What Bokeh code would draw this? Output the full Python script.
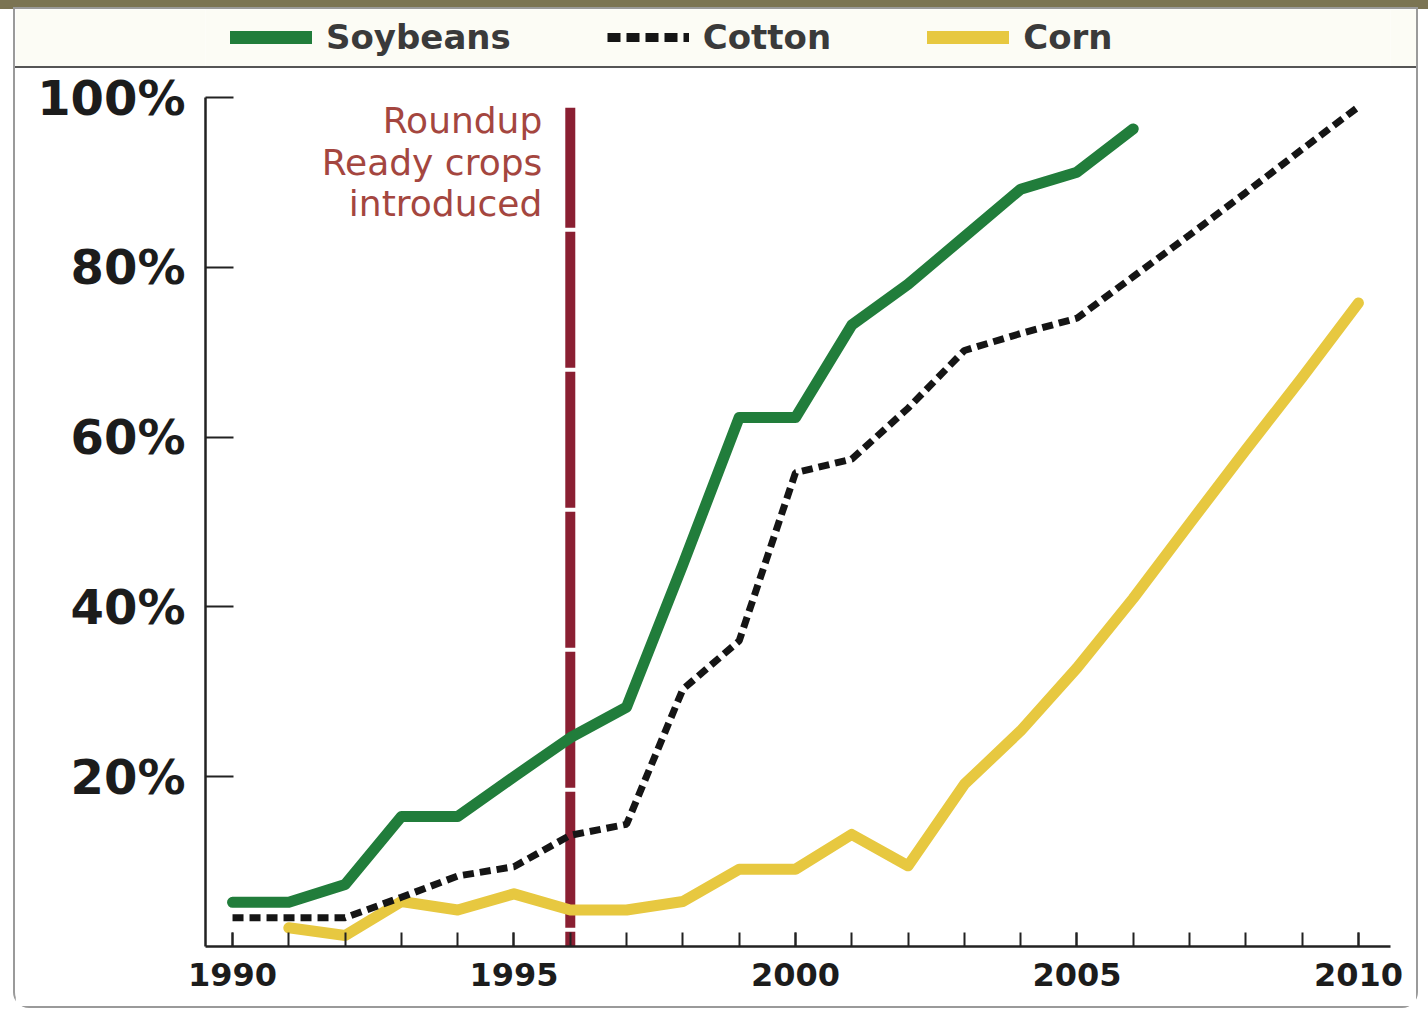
from bokeh.plotting import figure
from bokeh.models import Range1d, FixedTicker, PrintfTickFormatter, Legend, LegendItem, Label, Spacer
from bokeh.layouts import column, row
from bokeh.embed import file_html
from bokeh.resources import INLINE

# ---- data (share of planted acres, %) ----
years_soy = list(range(1990, 2007))
soybeans = [5.2, 5.2, 7.3, 15.3, 15.3, 20, 24.6, 28.2, 45, 62.3, 62.3, 73.2, 78, 83.6, 89.2, 91.2, 96.3]

years_cotton = list(range(1990, 2011))
cotton = [3.4, 3.4, 3.4, 5.8, 8.3, 9.4, 13.1, 14.4, 30.3, 36, 55.8, 57.4, 63.4, 70.2, 72.2, 74, 78.9, 83.8, 88.8, 93.9, 98.9]

years_corn = list(range(1991, 2011))
corn = [2.2, 1.3, 5.3, 4.3, 6.2, 4.3, 4.3, 5.3, 9.1, 9.1, 13.2, 9.5, 19.1, 25.4, 32.8, 41, 49.8, 58.5, 67, 75.8]

series_names = ["Soybeans", "Cotton", "Corn"]
x_ticks = [1990, 1995, 2000, 2005, 2010]
x_minor = list(range(1990, 2011))
y_ticks = [20, 40, 60, 80, 100]

marker_x = [1996, 1996]
marker_y = [98.8, 0]
marker_text = ["Roundup", "Ready crops", "introduced"]
marker_text_y = [97.3, 92.3, 87.5]

# ---- styles ----
FONT = "DejaVu Sans"
GREEN = "#217d3b"
BLACK = "#151515"
YELLOW = "#e7c840"
MAROON = "#8a1f32"
W_OUT = 1428
W = 1401

# olive top band
band = Spacer(width=W_OUT, height=9, styles={"background-color": "#7b7453"})

# legend strip
lf = figure(width=W, height=57, toolbar_location=None, output_backend="svg",
            x_axis_location=None, y_axis_location=None, min_border=0,
            x_range=Range1d(0, 1), y_range=Range1d(0, 1),
            background_fill_color="#fcfcf5", border_fill_color="#fcfcf5",
            outline_line_color=None)
lf.grid.visible = False
oob_x = [5, 6]
oob_y = [5, 6]
r1 = lf.line(oob_x, oob_y, line_color=GREEN, line_width=13, line_cap="round")
r2 = lf.line(oob_x, oob_y, line_color=BLACK, line_width=9, line_dash="13 6")
r3 = lf.line(oob_x, oob_y, line_color=YELLOW, line_width=13, line_cap="round")
legend = Legend(items=[LegendItem(label=series_names[0], renderers=[r1]),
                       LegendItem(label=series_names[1], renderers=[r2]),
                       LegendItem(label=series_names[2], renderers=[r3])],
                orientation="horizontal", location=(25, 9),
                glyph_width=82, glyph_height=30, label_standoff=14, spacing=96,
                padding=0, margin=0, border_line_color=None, background_fill_alpha=0,
                label_text_font=FONT, label_text_font_style="bold",
                label_text_font_size="34px", label_text_color="#3a3a3a")
lf.add_layout(legend)

# separator line
sep = Spacer(width=W, height=2, styles={"background-color": "#555555"})

# main chart
p = figure(width=W, height=938, x_range=Range1d(1989.52, 2010.57), y_range=Range1d(0, 100),
           toolbar_location=None, output_backend="svg",
           min_border_left=190, min_border_right=26, min_border_top=29, min_border_bottom=60,
           outline_line_color=None, background_fill_color="white", border_fill_color="white")
p.grid.visible = False

p.xaxis.ticker = FixedTicker(ticks=x_ticks, minor_ticks=x_minor)
p.xaxis.major_tick_in = 14
p.xaxis.major_tick_out = 0
p.xaxis.minor_tick_in = 14
p.xaxis.minor_tick_out = 0
p.xaxis.major_tick_line_width = 2
p.xaxis.minor_tick_line_width = 2
p.xaxis.major_tick_line_color = "#222222"
p.xaxis.minor_tick_line_color = "#222222"
p.xaxis.axis_line_width = 2.5
p.xaxis.axis_line_color = "#222222"
p.xaxis.major_label_text_font = FONT
p.xaxis.major_label_text_font_style = "bold"
p.xaxis.major_label_text_font_size = "32px"
p.xaxis.major_label_text_color = "#1c1c1c"
p.xaxis.major_label_standoff = 16

p.yaxis.ticker = FixedTicker(ticks=y_ticks)
p.yaxis.formatter = PrintfTickFormatter(format="%d%%")
p.yaxis.major_tick_in = 28
p.yaxis.major_tick_out = 0
p.yaxis.minor_tick_in = 0
p.yaxis.minor_tick_out = 0
p.yaxis.major_tick_line_width = 2
p.yaxis.major_tick_line_color = "#222222"
p.yaxis.axis_line_width = 2.5
p.yaxis.axis_line_color = "#222222"
p.yaxis.major_label_text_font = FONT
p.yaxis.major_label_text_font_style = "bold"
p.yaxis.major_label_text_font_size = "48px"
p.yaxis.major_label_text_color = "#1c1c1c"
p.yaxis.major_label_standoff = 20

# Roundup Ready marker
p.line(marker_x, marker_y, line_color=MAROON, line_width=10, line_dash="136 4", line_dash_offset=16)
for txt, yv in zip(marker_text, marker_text_y):
    p.add_layout(Label(x=marker_x[0], y=yv, x_offset=-28, text=txt, text_align="right",
                       text_baseline="middle", text_font=FONT, text_font_size="36px",
                       text_color="#a4463f"))

# series
p.line(years_corn, corn, line_color=YELLOW, line_width=11, line_join="round", line_cap="round")
p.line(years_soy, soybeans, line_color=GREEN, line_width=11, line_join="round", line_cap="round")
p.line(years_cotton, cotton, line_color=BLACK, line_width=7, line_dash="11 6")

inner = column(lf, sep, p, spacing=0,
               styles={"outline": "2px solid #9a9a9a", "border-radius": "0 0 14px 14px"})
layout = column(band, row(Spacer(width=15), inner, spacing=0), spacing=0)

open("out.html", "w").write(file_html(layout, INLINE, "Roundup Ready crops"))
